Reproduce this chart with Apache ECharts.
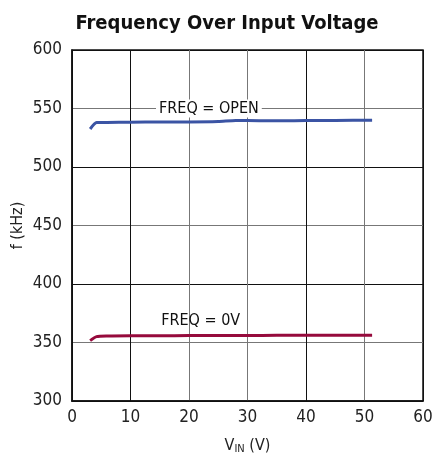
<!DOCTYPE html>
<html><head><meta charset="utf-8">
<script src="https://cdn.jsdelivr.net/npm/echarts@6/dist/echarts.min.js"></script>
<style>html,body{margin:0;padding:0;background:#fff}#c{width:435px;height:460px}</style>
</head><body><div id="c"></div>
<script>
const vinOpen = [3.1, 4.2, 6, 10, 15, 20, 25, 28, 32, 36, 40, 45, 51.3];
const freqOpen = [532.5, 538, 538.1, 538.2, 538.5, 538.5, 538.8, 539.8, 539.5, 539.5, 539.7, 539.8, 540];
const vin0V = [3.1, 4.2, 6, 10, 15, 20, 25, 30, 35, 40, 45, 51.3];
const freq0V = [351.6, 355, 355.6, 355.8, 355.8, 355.9, 356, 356, 356.1, 356.2, 356.3, 356.3];
const xTicks = [0, 10, 20, 30, 40, 50, 60];
const yTicks = [300, 350, 400, 450, 500, 550, 600];
const labelOpen = {text: 'FREQ = OPEN', x: 23.4, y: 550};
const label0V = {text: 'FREQ = 0V', x: 22, y: 368.6};

const pair = (xs, ys) => xs.map((x, i) => [x, ys[i]]);
const font = '"DejaVu Sans Condensed", "Liberation Sans Narrow", "Liberation Sans", sans-serif';
const chart = echarts.init(document.getElementById('c'));
chart.setOption({
  animation: false,
  title: {text: 'Frequency Over Input Voltage', left: 222, top: 9, textAlign: 'center',
    textStyle: {fontFamily: font, fontWeight: 'bold', fontSize: 20, color: '#111'}},
  grid: {left: 72, right: 12, top: 50, bottom: 59, outerBoundsMode: 'none', containLabel: false,
    show: true, borderColor: '#111', borderWidth: 1.5},
  xAxis: {type: 'value', min: xTicks[0], max: xTicks[xTicks.length - 1], interval: 10,
    name: 'V{s|IN} (V)', nameLocation: 'middle', nameGap: 35, nameMoveOverlap: false,
    nameTextStyle: {fontFamily: font, fontSize: 16, color: '#222', rich: {s: {fontFamily: font, fontSize: 11, padding: [8, 0, 0, 0], color: '#222'}}},
    axisLine: {lineStyle: {color: '#111', width: 1.5}}, axisTick: {show: false},
    axisLabel: {fontFamily: font, fontSize: 17, color: '#222', margin: 8},
    splitLine: {lineStyle: {color: ['#111', '#111', '#777', '#777', '#111', '#777', '#111'], width: 1}}},
  yAxis: {type: 'value', min: yTicks[0], max: yTicks[yTicks.length - 1], interval: 50,
    name: 'f (kHz)', nameLocation: 'middle', nameGap: 46, nameRotate: 90, nameMoveOverlap: false,
    nameTextStyle: {fontFamily: font, fontSize: 16, color: '#222'},
    axisLine: {lineStyle: {color: '#111', width: 1.5}}, axisTick: {show: false},
    axisLabel: {fontFamily: font, fontSize: 17, color: '#222', margin: 10},
    splitLine: {lineStyle: {color: ['#111', '#777'], width: 1}}},
  series: [
    {type: 'line', data: pair(vinOpen, freqOpen), showSymbol: false, smooth: 0.2,
      lineStyle: {color: '#3b54a4', width: 3}, itemStyle: {color: '#3b54a4'},
      markPoint: {symbol: 'rect', symbolSize: 0, data: [{coord: [labelOpen.x, labelOpen.y], value: labelOpen.text}],
        label: {show: true, position: 'inside', formatter: labelOpen.text, backgroundColor: '#fff', padding: [1, 3],
          fontFamily: font, fontSize: 16, color: '#111'}}},
    {type: 'line', data: pair(vin0V, freq0V), showSymbol: false, smooth: 0.2,
      lineStyle: {color: '#960a3c', width: 3}, itemStyle: {color: '#960a3c'},
      markPoint: {symbol: 'rect', symbolSize: 0, data: [{coord: [label0V.x, label0V.y], value: label0V.text}],
        label: {show: true, position: 'inside', formatter: label0V.text,
          fontFamily: font, fontSize: 16, color: '#111'}}}
  ]
});
</script></body></html>
